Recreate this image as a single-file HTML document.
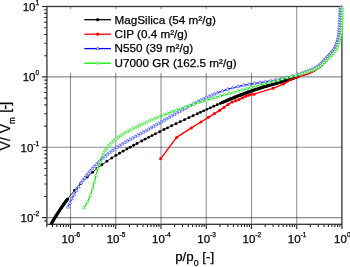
<!DOCTYPE html>
<html><head><meta charset="utf-8"><style>
html,body{margin:0;padding:0;background:#fff;width:350px;height:267px;overflow:hidden}
svg{display:block;font-family:"Liberation Sans",sans-serif;fill:#000}
text{stroke:#000;stroke-width:0.25px}
.t{position:absolute;left:0;top:0;will-change:transform}
</style></head><body>
<svg width="350" height="267" viewBox="0 0 350 267">
<path d="M70.50 6.5V224.3M115.75 6.5V224.3M161.00 6.5V224.3M206.25 6.5V224.3M251.50 6.5V224.3M296.75 6.5V224.3" stroke="#000" stroke-opacity="0.43" stroke-width="1.1" fill="none"/>
<path d="M46.9 76.90H341.9M46.9 147.27H341.9M46.9 217.64H341.9" stroke="#000" stroke-opacity="0.45" stroke-width="1.1" fill="none"/>
<path d="M46.84 224.3v2.6M52.49 224.3v2.6M56.88 224.3v2.6M60.46 224.3v2.6M63.49 224.3v2.6M66.11 224.3v2.6M68.43 224.3v2.6M70.50 224.3v4.8M84.12 224.3v2.6M92.09 224.3v2.6M97.74 224.3v2.6M102.13 224.3v2.6M105.71 224.3v2.6M108.74 224.3v2.6M111.36 224.3v2.6M113.68 224.3v2.6M115.75 224.3v4.8M129.37 224.3v2.6M137.34 224.3v2.6M142.99 224.3v2.6M147.38 224.3v2.6M150.96 224.3v2.6M153.99 224.3v2.6M156.61 224.3v2.6M158.93 224.3v2.6M161.00 224.3v4.8M174.62 224.3v2.6M182.59 224.3v2.6M188.24 224.3v2.6M192.63 224.3v2.6M196.21 224.3v2.6M199.24 224.3v2.6M201.86 224.3v2.6M204.18 224.3v2.6M206.25 224.3v4.8M219.87 224.3v2.6M227.84 224.3v2.6M233.49 224.3v2.6M237.88 224.3v2.6M241.46 224.3v2.6M244.49 224.3v2.6M247.11 224.3v2.6M249.43 224.3v2.6M251.50 224.3v4.8M265.12 224.3v2.6M273.09 224.3v2.6M278.74 224.3v2.6M283.13 224.3v2.6M286.71 224.3v2.6M289.74 224.3v2.6M292.36 224.3v2.6M294.68 224.3v2.6M296.75 224.3v4.8M310.37 224.3v2.6M318.34 224.3v2.6M323.99 224.3v2.6M328.38 224.3v2.6M331.96 224.3v2.6M334.99 224.3v2.6M337.61 224.3v2.6M339.93 224.3v2.6M342.00 224.3v4.8M46.9 220.86h-2.6M46.9 217.64h-4.8M46.9 196.46h-2.6M46.9 184.06h-2.6M46.9 175.27h-2.6M46.9 168.45h-2.6M46.9 162.88h-2.6M46.9 158.17h-2.6M46.9 154.09h-2.6M46.9 150.49h-2.6M46.9 147.27h-4.8M46.9 126.09h-2.6M46.9 113.69h-2.6M46.9 104.90h-2.6M46.9 98.08h-2.6M46.9 92.51h-2.6M46.9 87.80h-2.6M46.9 83.72h-2.6M46.9 80.12h-2.6M46.9 76.90h-4.8M46.9 55.72h-2.6M46.9 43.32h-2.6M46.9 34.53h-2.6M46.9 27.71h-2.6M46.9 22.14h-2.6M46.9 17.43h-2.6M46.9 13.35h-2.6M46.9 9.75h-2.6M46.9 6.53h-4.8" stroke="#222" stroke-width="1.1" fill="none"/>
<rect x="46.9" y="6.5" width="295.00" height="217.80" stroke="#333" stroke-width="1.3" fill="none"/>
<rect x="55" y="9" width="205" height="64" fill="#fff"/>
<path d="M84.3 19.7H110.9" stroke="#000" stroke-width="1.3"/>
<circle cx="97.7" cy="19.7" r="1.6" fill="#000"/>
<path d="M84.3 34.2H110.9" stroke="#f00" stroke-width="1.3"/>
<circle cx="97.7" cy="34.2" r="1.6" fill="#f00"/>
<path d="M84.3 48.6H110.9" stroke="#00f" stroke-width="1.3"/>
<path d="M97.7 46.70L99.35 49.55L96.05 49.55Z" fill="#fff" stroke="#00f" stroke-width="0.6" stroke-opacity="0.8"/>
<path d="M84.3 63.2H110.9" stroke="#0e0" stroke-width="1.3"/>
<path d="M97.7 61.30L99.35 64.15L96.05 64.15Z" fill="#fff" stroke="#0e0" stroke-width="0.6" stroke-opacity="0.8"/>
<polyline points="51.60,223.18 52.00,222.49 52.80,221.13 53.60,219.79 54.40,218.47 55.20,217.17 56.00,215.88 56.80,214.61 57.60,213.35 58.40,212.11 59.20,210.89 60.00,209.68 60.80,208.49 61.60,207.32 62.40,206.16 63.20,205.02 64.00,203.89 64.80,202.78 65.60,201.68 66.40,200.59 67.20,199.52 68.00,198.47 68.80,197.43 69.60,196.40 70.40,195.39 71.20,194.39 72.00,193.41 72.80,192.44 73.60,191.48 74.40,190.54 75.20,189.60 76.00,188.69 76.80,187.78 77.60,186.89 78.40,186.00 79.20,185.13 80.00,184.28 80.80,183.43 81.60,182.60 82.40,181.77 83.20,180.96 84.00,180.16 84.80,179.37 85.60,178.59 86.40,177.83 87.20,177.07 88.00,176.32 88.80,175.58 89.60,174.86 90.40,174.14 91.20,173.43 92.00,172.73 92.80,172.04 93.60,171.36 94.40,170.69 95.20,170.03 96.00,169.38 96.80,168.73 97.60,168.09 98.40,167.47 99.20,166.84 100.00,166.23 100.80,165.63 101.60,165.03 102.40,164.44 103.20,163.85 104.00,163.28 104.80,162.71 105.60,162.14 106.40,161.59 107.20,161.04 108.00,160.49 108.80,159.95 109.60,159.42 110.40,158.89 111.20,158.37 112.00,157.85 112.80,157.34 113.60,156.84 114.40,156.33 115.20,155.84 116.00,155.35 116.80,154.86 117.60,154.37 118.40,153.89 119.20,153.42 120.00,152.94 120.80,152.47 121.60,152.01 122.40,151.54 123.20,151.08 124.00,150.63 124.80,150.17 125.60,149.72 126.40,149.27 127.20,148.82 128.00,148.38 128.80,147.93 129.60,147.49 130.40,147.05 131.20,146.61 132.00,146.17 132.80,145.73 133.60,145.30 134.40,144.86 135.20,144.43 136.00,144.00 136.80,143.56 137.60,143.13 138.40,142.71 139.20,142.28 140.00,141.85 140.80,141.43 141.60,141.00 142.40,140.58 143.20,140.16 144.00,139.74 144.80,139.32 145.60,138.90 146.40,138.48 147.20,138.07 148.00,137.65 148.80,137.24 149.60,136.82 150.40,136.41 151.20,136.00 152.00,135.59 152.80,135.18 153.60,134.77 154.40,134.37 155.20,133.96 156.00,133.55 156.80,133.15 157.60,132.75 158.40,132.35 159.20,131.94 160.00,131.54 160.80,131.15 161.60,130.75 162.40,130.35 163.20,129.95 164.00,129.56 164.80,129.16 165.60,128.77 166.40,128.38 167.20,127.98 168.00,127.59 168.80,127.20 169.60,126.81 170.40,126.42 171.20,126.03 172.00,125.65 172.80,125.26 173.60,124.87 174.40,124.49 175.20,124.11 176.00,123.72 176.80,123.34 177.60,122.96 178.40,122.58 179.20,122.19 180.00,121.82 180.80,121.44 181.60,121.06 182.40,120.68 183.20,120.30 184.00,119.93 184.80,119.55 185.60,119.17 186.40,118.80 187.20,118.43 188.00,118.05 188.80,117.68 189.60,117.31 190.40,116.94 191.20,116.56 192.00,116.19 192.80,115.82 193.60,115.45 194.40,115.09 195.20,114.72 196.00,114.35 196.80,113.98 197.60,113.61 198.40,113.25 199.20,112.88 200.00,112.52 200.80,112.15 201.60,111.79 202.40,111.42 203.20,111.06 204.00,110.70 204.80,110.33 205.60,109.97 206.40,109.61 207.20,109.25 208.00,108.88 208.80,108.52 209.60,108.16 210.40,107.80 211.20,107.44 212.00,107.08 212.80,106.72 213.60,106.37 214.40,106.01 215.20,105.65 216.00,105.29 216.80,104.94 217.60,104.58 218.40,104.23 219.20,103.87 220.00,103.52 220.80,103.17 221.60,102.82 222.40,102.47 223.20,102.13 224.00,101.78 224.80,101.44 225.60,101.09 226.40,100.75 227.20,100.41 228.00,100.07 228.80,99.74 229.60,99.40 230.40,99.07 231.20,98.74 232.00,98.41 232.80,98.08 233.60,97.75 234.40,97.43 235.20,97.11 236.00,96.79 236.80,96.47 237.60,96.15 238.40,95.84 239.20,95.52 240.00,95.21 240.80,94.90 241.60,94.60 242.40,94.29 243.20,93.99 244.00,93.69 244.80,93.39 245.60,93.09 246.40,92.80 247.20,92.51 248.00,92.22 248.80,91.93 249.60,91.64 250.40,91.36 251.20,91.08 252.00,90.80 252.80,90.52 253.60,90.24 254.40,89.97 255.20,89.70 256.00,89.43 256.80,89.17 257.60,88.90 258.40,88.64 259.20,88.38 260.00,88.13 260.80,87.87 261.60,87.62 262.40,87.37 263.20,87.13 264.00,86.88 264.80,86.64 265.60,86.40 266.40,86.16 267.20,85.92 268.00,85.69 268.80,85.45 269.60,85.22 270.40,84.99 271.20,84.76 272.00,84.53 272.80,84.30 273.60,84.07 274.40,83.84 275.20,83.61 276.00,83.38 276.80,83.15 277.60,82.92 278.40,82.69 279.20,82.46 280.00,82.22 280.80,81.99 281.60,81.76 282.40,81.52 283.20,81.28 284.00,81.05 284.80,80.81 285.60,80.56 286.40,80.32 287.20,80.07 288.00,79.82 288.80,79.57 289.60,79.32 290.40,79.06 291.20,78.80 292.00,78.54 292.80,78.27 293.60,78.00 294.40,77.73 295.20,77.45 296.00,77.17 300.09,75.09 305.09,73.58 310.11,71.78 315.14,69.66 320.20,66.23 325.72,60.51 330.52,55.40 335.05,50.17 337.48,45.11 339.29,39.57 340.40,33.54 341.00,27.02 341.30,20.01 341.60,12.01 341.80,6.51" fill="none" stroke="#000" stroke-width="1.0" stroke-linejoin="round"/>
<g fill="#000"><circle cx="51.60" cy="223.18" r="1.6"/><circle cx="52.10" cy="222.31" r="1.6"/><circle cx="52.61" cy="221.45" r="1.6"/><circle cx="53.12" cy="220.59" r="1.6"/><circle cx="53.64" cy="219.73" r="1.6"/><circle cx="54.15" cy="218.88" r="1.6"/><circle cx="54.67" cy="218.02" r="1.6"/><circle cx="55.20" cy="217.17" r="1.6"/><circle cx="55.72" cy="216.32" r="1.6"/><circle cx="56.25" cy="215.47" r="1.6"/><circle cx="56.79" cy="214.63" r="1.6"/><circle cx="57.32" cy="213.78" r="1.6"/><circle cx="57.86" cy="212.94" r="1.6"/><circle cx="58.41" cy="212.10" r="1.6"/><circle cx="58.95" cy="211.27" r="1.6"/><circle cx="59.50" cy="210.43" r="1.6"/><circle cx="60.06" cy="209.60" r="1.6"/><circle cx="60.62" cy="208.77" r="1.6"/><circle cx="61.18" cy="207.94" r="1.6"/><circle cx="61.74" cy="207.11" r="1.6"/><circle cx="62.31" cy="206.29" r="1.6"/><circle cx="62.88" cy="205.47" r="1.6"/><circle cx="63.46" cy="204.65" r="1.6"/><circle cx="64.04" cy="203.84" r="1.6"/><circle cx="64.62" cy="203.03" r="1.6"/><circle cx="65.21" cy="202.22" r="1.6"/><circle cx="65.80" cy="201.41" r="1.6"/><circle cx="66.39" cy="200.61" r="1.6"/><circle cx="66.99" cy="199.81" r="1.6"/><circle cx="67.59" cy="199.01" r="1.6"/><circle cx="74.50" cy="190.42" r="1.45"/><circle cx="80.70" cy="183.54" r="1.45"/><circle cx="87.30" cy="176.97" r="1.45"/><circle cx="92.60" cy="172.22" r="1.45"/><circle cx="97.10" cy="168.49" r="1.45"/><circle cx="101.90" cy="164.81" r="1.45"/><circle cx="106.90" cy="161.24" r="1.45"/><circle cx="111.80" cy="157.98" r="1.45"/><circle cx="115.90" cy="155.41" r="1.45"/><circle cx="119.50" cy="153.24" r="1.45"/><circle cx="123.10" cy="151.14" r="1.45"/><circle cx="126.90" cy="148.99" r="1.45"/><circle cx="130.10" cy="147.21" r="1.45"/><circle cx="133.60" cy="145.30" r="1.45"/><circle cx="137.00" cy="143.46" r="1.45"/><circle cx="141.70" cy="140.95" r="1.45"/><circle cx="145.10" cy="139.16" r="1.45"/><circle cx="148.60" cy="137.34" r="1.45"/><circle cx="152.00" cy="135.59" r="1.45"/><circle cx="155.40" cy="133.86" r="1.45"/><circle cx="159.70" cy="131.69" r="1.45"/><circle cx="164.00" cy="129.56" r="1.45"/><circle cx="167.40" cy="127.88" r="1.45"/><circle cx="171.70" cy="125.79" r="1.45"/><circle cx="176.00" cy="123.72" r="1.45"/><circle cx="180.30" cy="121.67" r="1.45"/><circle cx="184.60" cy="119.64" r="1.45"/><circle cx="188.90" cy="117.63" r="1.45"/><circle cx="193.10" cy="115.69" r="1.45"/><circle cx="197.40" cy="113.71" r="1.45"/><circle cx="200.50" cy="112.29" r="1.45"/><circle cx="203.70" cy="110.83" r="1.45"/><circle cx="207.00" cy="109.34" r="1.45"/><circle cx="210.30" cy="107.85" r="1.45"/><circle cx="213.80" cy="106.28" r="1.45"/><circle cx="217.20" cy="104.76" r="1.45"/><circle cx="220.30" cy="103.39" r="1.45"/><circle cx="222.19" cy="102.56" r="1.7"/><circle cx="223.29" cy="102.09" r="1.7"/><circle cx="224.40" cy="101.61" r="1.7"/><circle cx="225.50" cy="101.14" r="1.7"/><circle cx="226.60" cy="100.66" r="1.7"/><circle cx="227.71" cy="100.20" r="1.7"/><circle cx="228.81" cy="99.73" r="1.7"/><circle cx="229.92" cy="99.27" r="1.7"/><circle cx="231.03" cy="98.81" r="1.7"/><circle cx="232.14" cy="98.35" r="1.7"/><circle cx="233.25" cy="97.90" r="1.7"/><circle cx="234.36" cy="97.45" r="1.7"/><circle cx="235.47" cy="97.00" r="1.7"/><circle cx="236.59" cy="96.55" r="1.7"/><circle cx="237.70" cy="96.11" r="1.7"/><circle cx="238.82" cy="95.67" r="1.7"/><circle cx="239.94" cy="95.24" r="1.7"/><circle cx="241.06" cy="94.81" r="1.7"/><circle cx="242.18" cy="94.38" r="1.7"/><circle cx="243.30" cy="93.95" r="1.7"/><circle cx="244.43" cy="93.53" r="1.7"/><circle cx="245.55" cy="93.11" r="1.7"/><circle cx="246.68" cy="92.70" r="1.7"/><circle cx="247.80" cy="92.29" r="1.7"/><circle cx="248.93" cy="91.88" r="1.7"/><circle cx="250.06" cy="91.48" r="1.7"/><circle cx="251.20" cy="91.08" r="1.7"/><circle cx="252.33" cy="90.68" r="1.7"/><circle cx="253.46" cy="90.29" r="1.7"/><circle cx="254.60" cy="89.90" r="1.7"/><circle cx="255.74" cy="89.52" r="1.7"/><circle cx="256.87" cy="89.14" r="1.7"/><circle cx="258.01" cy="88.77" r="1.7"/><circle cx="259.16" cy="88.40" r="1.7"/><circle cx="260.30" cy="88.03" r="1.7"/><circle cx="261.44" cy="87.67" r="1.7"/><circle cx="262.59" cy="87.32" r="1.7"/><circle cx="263.74" cy="86.96" r="1.7"/><circle cx="264.88" cy="86.61" r="1.7"/><circle cx="266.03" cy="86.27" r="1.7"/><circle cx="267.18" cy="85.93" r="1.7"/><circle cx="268.34" cy="85.59" r="1.7"/><circle cx="269.49" cy="85.25" r="1.7"/><circle cx="270.64" cy="84.92" r="1.7"/><circle cx="271.79" cy="84.59" r="1.7"/><circle cx="272.95" cy="84.25" r="1.7"/><circle cx="274.10" cy="83.92" r="1.7"/><circle cx="275.25" cy="83.59" r="1.7"/><circle cx="276.41" cy="83.26" r="1.7"/><circle cx="277.56" cy="82.93" r="1.7"/><circle cx="278.71" cy="82.60" r="1.7"/><circle cx="279.87" cy="82.26" r="1.7"/><circle cx="281.02" cy="81.93" r="1.7"/><circle cx="282.17" cy="81.59" r="1.7"/><circle cx="283.32" cy="81.25" r="1.7"/><circle cx="284.47" cy="80.91" r="1.7"/><circle cx="285.62" cy="80.56" r="1.7"/><circle cx="286.77" cy="80.21" r="1.7"/><circle cx="287.91" cy="79.85" r="1.7"/><circle cx="289.06" cy="79.49" r="1.7"/><circle cx="290.20" cy="79.13" r="1.7"/><circle cx="291.34" cy="78.76" r="1.7"/><circle cx="292.48" cy="78.38" r="1.7"/><circle cx="293.62" cy="78.00" r="1.7"/><circle cx="294.75" cy="77.61" r="1.7"/><circle cx="295.89" cy="77.21" r="1.7"/><circle cx="296.96" cy="76.68" r="1.7"/><circle cx="298.03" cy="76.14" r="1.7"/><circle cx="299.10" cy="75.59" r="1.7"/><circle cx="300.17" cy="75.06" r="1.4"/><circle cx="302.09" cy="74.49" r="1.4"/><circle cx="304.00" cy="73.91" r="1.4"/><circle cx="305.91" cy="73.29" r="1.4"/><circle cx="307.79" cy="72.62" r="1.4"/><circle cx="309.67" cy="71.94" r="1.4"/><circle cx="311.52" cy="71.19" r="1.4"/><circle cx="313.37" cy="70.41" r="1.4"/><circle cx="315.20" cy="69.62" r="1.4"/><circle cx="316.86" cy="68.50" r="1.4"/><circle cx="318.51" cy="67.37" r="1.4"/><circle cx="320.16" cy="66.25" r="1.4"/><circle cx="321.56" cy="64.82" r="1.4"/><circle cx="322.95" cy="63.38" r="1.4"/><circle cx="324.34" cy="61.94" r="1.4"/><circle cx="325.72" cy="60.50" r="1.4"/><circle cx="327.10" cy="59.04" r="1.4"/><circle cx="328.47" cy="57.59" r="1.4"/><circle cx="329.84" cy="56.13" r="1.4"/><circle cx="331.18" cy="54.64" r="1.4"/><circle cx="332.48" cy="53.13" r="1.4"/><circle cx="333.79" cy="51.62" r="1.4"/><circle cx="335.08" cy="50.09" r="1.4"/><circle cx="335.95" cy="48.29" r="1.4"/><circle cx="336.82" cy="46.49" r="1.4"/><circle cx="337.62" cy="44.66" r="1.4"/><circle cx="338.25" cy="42.76" r="1.4"/><circle cx="338.87" cy="40.86" r="1.4"/><circle cx="339.41" cy="38.94" r="1.4"/><circle cx="339.77" cy="36.97" r="1.4"/><circle cx="340.13" cy="35.01" r="1.4"/><circle cx="340.44" cy="33.03" r="1.4"/><circle cx="340.63" cy="31.04" r="1.4"/><circle cx="340.81" cy="29.05" r="1.4"/><circle cx="341.00" cy="27.06" r="1.4"/><circle cx="341.08" cy="25.06" r="1.4"/><circle cx="341.17" cy="23.06" r="1.4"/><circle cx="341.25" cy="21.06" r="1.4"/><circle cx="341.34" cy="19.07" r="1.4"/><circle cx="341.41" cy="17.07" r="1.4"/><circle cx="341.49" cy="15.07" r="1.4"/><circle cx="341.56" cy="13.07" r="1.4"/><circle cx="341.63" cy="11.07" r="1.4"/><circle cx="341.71" cy="9.07" r="1.4"/><circle cx="341.78" cy="7.07" r="1.4"/></g>
<polyline points="160.60,158.80 176.60,137.40 191.30,127.90 200.90,122.00 208.40,117.30 214.50,113.60 219.70,110.30 223.90,107.50 227.50,104.90 231.40,102.30 235.60,100.90 238.90,99.50 241.70,98.10 244.90,96.70 251.10,94.40 254.00,94.20 272.90,88.30 283.40,84.10 290.50,79.80 300.34,75.95 305.38,74.44 310.44,72.62 315.35,70.04 320.17,66.19 325.31,60.12 329.93,54.86 334.39,49.72 336.74,44.81 338.52,39.38 339.60,33.43 340.20,26.97 340.50,19.98 340.80,11.98 341.00,6.48" fill="none" stroke="#ff0000" stroke-width="1.4" stroke-linejoin="round"/>
<g fill="#ff0000"><circle cx="160.60" cy="158.80" r="1.5"/><circle cx="176.60" cy="137.40" r="1.5"/><circle cx="191.30" cy="127.90" r="1.5"/><circle cx="254.00" cy="94.20" r="1.5"/><circle cx="272.90" cy="88.30" r="1.5"/><circle cx="283.40" cy="84.10" r="1.5"/><circle cx="290.50" cy="79.80" r="1.5"/><circle cx="200.90" cy="122.00" r="1.5"/><circle cx="208.40" cy="117.30" r="1.5"/><circle cx="214.50" cy="113.60" r="1.5"/><circle cx="219.70" cy="110.30" r="1.5"/><circle cx="223.90" cy="107.50" r="1.5"/><circle cx="228.10" cy="104.50" r="1.5"/><circle cx="232.30" cy="102.00" r="1.5"/><circle cx="235.70" cy="100.86" r="1.5"/><circle cx="239.10" cy="99.40" r="1.5"/><circle cx="242.60" cy="97.71" r="1.5"/><circle cx="245.80" cy="96.37" r="1.5"/><circle cx="248.60" cy="95.33" r="1.5"/><circle cx="251.20" cy="94.39" r="1.5"/><circle cx="300.34" cy="75.95" r="1.3"/><circle cx="302.74" cy="75.23" r="1.3"/><circle cx="305.13" cy="74.51" r="1.3"/><circle cx="307.49" cy="73.68" r="1.3"/><circle cx="309.84" cy="72.83" r="1.3"/><circle cx="312.09" cy="71.75" r="1.3"/><circle cx="314.30" cy="70.59" r="1.3"/><circle cx="316.38" cy="69.22" r="1.3"/><circle cx="318.34" cy="67.66" r="1.3"/><circle cx="320.27" cy="66.07" r="1.3"/><circle cx="321.88" cy="64.17" r="1.3"/><circle cx="323.50" cy="62.26" r="1.3"/><circle cx="325.11" cy="60.35" r="1.3"/><circle cx="326.76" cy="58.47" r="1.3"/><circle cx="328.41" cy="56.59" r="1.3"/><circle cx="330.06" cy="54.71" r="1.3"/><circle cx="331.70" cy="52.82" r="1.3"/><circle cx="333.33" cy="50.93" r="1.3"/><circle cx="334.77" cy="48.91" r="1.3"/><circle cx="335.85" cy="46.66" r="1.3"/><circle cx="336.88" cy="44.38" r="1.3"/><circle cx="337.65" cy="42.01" r="1.3"/><circle cx="338.43" cy="39.63" r="1.3"/><circle cx="338.92" cy="37.18" r="1.3"/><circle cx="339.37" cy="34.72" r="1.3"/><circle cx="339.71" cy="32.25" r="1.3"/><circle cx="339.94" cy="29.76" r="1.3"/><circle cx="340.17" cy="27.27" r="1.3"/><circle cx="340.30" cy="24.77" r="1.3"/><circle cx="340.40" cy="22.27" r="1.3"/><circle cx="340.51" cy="19.78" r="1.3"/><circle cx="340.60" cy="17.28" r="1.3"/><circle cx="340.70" cy="14.78" r="1.3"/><circle cx="340.79" cy="12.28" r="1.3"/><circle cx="340.88" cy="9.78" r="1.3"/><circle cx="340.97" cy="7.29" r="1.3"/></g>
<polyline points="213.00,94.64 214.00,94.22 215.00,93.82 216.00,93.41 217.00,93.02 218.00,92.63 219.00,92.25 220.00,91.88 221.00,91.51 222.00,91.15 223.00,90.80 224.00,90.46 225.00,90.12 226.00,89.80 227.00,89.48 228.00,89.17 229.00,88.87 230.00,88.57 231.00,88.29 232.00,88.01 233.00,87.74 234.00,87.48 235.00,87.23 236.00,86.99 237.00,86.75 238.00,86.52 239.00,86.29 240.00,86.07 241.00,85.86 242.00,85.65 243.00,85.45 244.00,85.25 245.00,85.06 246.00,84.87 247.00,84.69 248.00,84.51 249.00,84.33 250.00,84.16 251.00,83.99 252.00,83.82 253.00,83.66 254.00,83.49 255.00,83.33 256.00,83.18 257.00,83.02 258.00,82.86 259.00,82.71 260.00,82.55 261.00,82.40 262.00,82.24 263.00,82.08 264.00,81.93 265.00,81.77 266.00,81.61 267.00,81.45 268.00,81.29 269.00,81.13 270.00,80.96 271.00,80.79 272.00,80.62 273.00,80.45 274.00,80.27 275.00,80.09 276.00,79.90 277.00,79.71 278.00,79.52 279.00,79.32 280.00,79.11 281.00,78.90 282.00,78.68 283.00,78.46 284.00,78.23 285.00,78.00 286.00,77.75 287.00,77.51 288.00,77.25 289.00,76.98 290.00,76.71 291.00,76.43 292.00,76.14 293.00,75.84 294.00,75.53 295.00,75.22 299.66,73.65 304.62,72.16 309.56,70.38 314.42,68.35 319.21,65.09 324.63,59.47 329.41,54.40 333.81,49.33 336.09,44.55 337.84,39.21 338.91,33.34 339.50,26.92 339.80,19.95 340.10,11.96 340.30,6.46" fill="none" stroke="#0000ff" stroke-width="1.1" stroke-linejoin="round"/>
<polyline points="67.90,207.14 69.00,204.76 70.00,202.65 71.00,200.61 72.00,198.62 73.00,196.70 74.00,194.82 75.00,193.00 76.00,191.24 77.00,189.52 78.00,187.86 79.00,186.24 80.00,184.67" fill="none" stroke="#0000ff" stroke-width="1.0" stroke-linejoin="round"/>
<polyline points="67.90,207.14 69.00,204.76 70.00,202.65 71.00,200.61 72.00,198.62 73.00,196.70 74.00,194.82 75.00,193.00 76.00,191.24 77.00,189.52 78.00,187.86 79.00,186.24 80.00,184.67 81.00,183.14 82.00,181.66 83.00,180.21 84.00,178.81 85.00,177.45 86.00,176.13 87.00,174.84 88.00,173.59 89.00,172.37 90.00,171.18 91.00,170.02 92.00,168.90 93.00,167.79 94.00,166.72 95.00,165.67 96.00,164.64 97.00,163.63 98.00,162.65 99.00,161.69 100.00,160.75 101.00,159.82 102.00,158.92 103.00,158.04 104.00,157.18 105.00,156.33 106.00,155.50 107.00,154.69 108.00,153.90 109.00,153.12 110.00,152.36 111.00,151.61 112.00,150.88 113.00,150.16 114.00,149.45 115.00,148.76 116.00,148.07 117.00,147.40 118.00,146.75 119.00,146.10 120.00,145.46 121.00,144.83 122.00,144.21 123.00,143.60 124.00,143.00 125.00,142.41 126.00,141.82 127.00,141.24 128.00,140.66 129.00,140.09 130.00,139.53 131.00,138.96 132.00,138.41 133.00,137.85 134.00,137.30 135.00,136.75 136.00,136.20 137.00,135.66 138.00,135.11 139.00,134.56 140.00,134.02 141.00,133.47 142.00,132.92 143.00,132.37 144.00,131.81 145.00,131.26 146.00,130.70 147.00,130.14 148.00,129.57 149.00,129.01 150.00,128.44 151.00,127.87 152.00,127.30 153.00,126.73 154.00,126.16 155.00,125.58 156.00,125.00 157.00,124.43 158.00,123.85 159.00,123.27 160.00,122.69 161.00,122.11 162.00,121.53 163.00,120.95 164.00,120.37 165.00,119.80 166.00,119.22 167.00,118.64 168.00,118.06 169.00,117.48 170.00,116.90 171.00,116.33 172.00,115.75 173.00,115.18 174.00,114.60 175.00,114.03 176.00,113.46 177.00,112.89 178.00,112.33 179.00,111.76 180.00,111.20 181.00,110.64 182.00,110.08 183.00,109.53 184.00,108.97 185.00,108.42 186.00,107.87 187.00,107.33 188.00,106.79 189.00,106.25 190.00,105.71 191.00,105.18 192.00,104.66 193.00,104.13 194.00,103.61 195.00,103.09 196.00,102.58 197.00,102.08 198.00,101.57 199.00,101.07 200.00,100.58 201.00,100.09 202.00,99.60 203.00,99.13 204.00,98.65 205.00,98.18 206.00,97.72 207.00,97.26 208.00,96.81 209.00,96.36 210.00,95.92 211.00,95.49 212.00,95.06 213.00,94.64 214.00,94.22 215.00,93.82" fill="none" stroke="#2030ff" stroke-width="0.6" stroke-linejoin="round"/>
<path d="M67.90 205.24L69.55 208.09L66.25 208.09ZM69.85 201.07L71.50 203.92L68.19 203.92ZM71.89 196.95L73.54 199.80L70.23 199.80ZM74.03 192.88L75.68 195.73L72.37 195.73ZM76.28 188.87L77.93 191.72L74.62 191.72ZM78.64 184.92L80.29 187.77L76.99 187.77ZM81.13 181.05L82.78 183.90L79.47 183.90ZM82.82 178.57L84.47 181.42L81.17 181.42ZM84.57 176.14L86.22 178.99L82.92 178.99ZM86.38 173.74L88.03 176.59L84.72 176.59ZM88.24 171.39L89.90 174.24L86.59 174.24ZM90.16 169.09L91.82 171.94L88.51 171.94ZM92.14 166.84L93.80 169.69L90.49 169.69ZM94.18 164.63L95.83 167.48L92.53 167.48ZM96.26 162.47L97.92 165.32L94.61 165.32ZM98.40 160.37L100.05 163.22L96.75 163.22ZM100.58 158.31L102.23 161.16L98.93 161.16ZM102.81 156.31L104.47 159.16L101.16 159.16ZM105.09 154.35L106.75 157.20L103.44 157.20ZM107.42 152.46L109.07 155.31L105.77 155.31ZM109.79 150.62L111.44 153.47L108.13 153.47ZM112.20 148.83L113.85 151.68L110.54 151.68ZM114.65 147.10L116.30 149.95L112.99 149.95ZM117.13 145.42L118.78 148.27L115.48 148.27ZM119.65 143.79L121.30 146.64L117.99 146.64ZM122.19 142.20L123.85 145.05L120.54 145.05ZM124.76 140.65L126.41 143.50L123.11 143.50ZM127.35 139.13L129.00 141.98L125.70 141.98ZM129.96 137.65L131.61 140.50L128.30 140.50ZM132.58 136.19L134.23 139.04L130.92 139.04ZM135.20 134.74L136.86 137.59L133.55 137.59ZM137.84 133.30L139.49 136.15L136.18 136.15ZM140.47 131.86L142.12 134.71L138.82 134.71ZM143.10 130.41L144.75 133.26L141.44 133.26ZM145.72 128.96L147.37 131.81L144.07 131.81ZM148.33 127.48L149.99 130.33L146.68 130.33ZM150.94 126.00L152.60 128.85L149.29 128.85ZM153.55 124.51L155.20 127.36L151.89 127.36ZM156.15 123.02L157.80 125.87L154.50 125.87ZM158.75 121.52L160.40 124.37L157.09 124.37ZM161.34 120.02L163.00 122.87L159.69 122.87ZM163.94 118.51L165.59 121.36L162.28 121.36ZM166.53 117.01L168.19 119.86L164.88 119.86ZM169.13 115.50L170.78 118.35L167.48 118.35ZM171.73 114.01L173.38 116.86L170.08 116.86ZM174.33 112.51L175.98 115.36L172.68 115.36ZM176.94 111.03L178.59 113.88L175.29 113.88ZM179.55 109.55L181.20 112.40L177.90 112.40ZM182.17 108.09L183.82 110.94L180.51 110.94ZM184.79 106.64L186.45 109.49L183.14 109.49ZM187.43 105.20L189.08 108.05L185.77 108.05ZM190.07 103.78L191.72 106.63L188.42 106.63ZM192.72 102.38L194.37 105.23L191.07 105.23ZM195.39 101.00L197.04 103.85L193.73 103.85ZM198.06 99.64L199.71 102.49L196.41 102.49ZM200.75 98.31L202.40 101.16L199.10 101.16ZM203.45 97.01L205.11 99.86L201.80 99.86ZM206.17 95.74L207.82 98.59L204.52 98.59ZM208.91 94.51L210.56 97.36L207.25 97.36ZM211.66 93.31L213.31 96.16L210.00 96.16ZM214.42 92.15L216.08 95.00L212.77 95.00ZM217.21 91.04L218.86 93.89L215.56 93.89ZM222.37 89.12L224.02 91.97L220.71 91.97ZM227.59 87.40L229.24 90.25L225.93 90.25ZM232.87 85.88L234.53 88.73L231.22 88.73ZM238.21 84.57L239.87 87.42L236.56 87.42ZM243.60 83.43L245.25 86.28L241.94 86.28ZM249.00 82.43L250.66 85.28L247.35 85.28ZM254.43 81.53L256.08 84.38L252.78 84.38ZM259.86 80.67L261.51 83.52L258.21 83.52ZM265.30 79.82L266.95 82.67L263.64 82.67ZM270.72 78.94L272.38 81.79L269.07 81.79ZM276.14 77.97L277.79 80.82L274.49 80.82ZM281.53 76.89L283.18 79.74L279.88 79.74ZM286.89 75.63L288.54 78.48L285.23 78.48ZM292.19 74.18L293.84 77.03L290.54 77.03ZM297.43 72.50L299.08 75.35L295.77 75.35ZM302.67 70.85L304.32 73.70L301.02 73.70ZM305.06 70.10L306.71 72.95L303.40 72.95ZM307.41 69.26L309.06 72.11L305.76 72.11ZM309.76 68.40L311.41 71.25L308.10 71.25ZM312.06 67.44L313.72 70.29L310.41 70.29ZM314.37 66.47L316.02 69.32L312.72 69.32ZM316.44 65.08L318.10 67.93L314.79 67.93ZM318.51 63.67L320.16 66.52L316.86 66.52ZM320.36 62.00L322.01 64.85L318.71 64.85ZM322.09 60.20L323.75 63.05L320.44 63.05ZM323.83 58.40L325.48 61.25L322.18 61.25ZM325.55 56.59L327.21 59.44L323.90 59.44ZM327.27 54.77L328.92 57.62L325.61 57.62ZM328.98 52.95L330.63 55.80L327.33 55.80ZM330.64 51.08L332.29 53.93L328.98 53.93ZM332.27 49.19L333.93 52.04L330.62 52.04ZM333.88 47.28L335.53 50.13L332.22 50.13ZM334.95 45.02L336.61 47.87L333.30 47.87ZM336.03 42.77L337.68 45.62L334.38 45.62ZM336.82 40.40L338.48 43.25L335.17 43.25ZM337.60 38.02L339.25 40.87L335.95 40.87ZM338.15 35.59L339.80 38.44L336.50 38.44ZM338.60 33.13L340.25 35.98L336.95 35.98ZM338.98 30.66L340.64 33.51L337.33 33.51ZM339.21 28.17L340.87 31.02L337.56 31.02ZM339.44 25.68L341.09 28.53L337.79 28.53ZM339.58 23.19L341.23 26.04L337.93 26.04ZM339.69 20.69L341.34 23.54L338.04 23.54ZM339.80 18.19L341.45 21.04L338.14 21.04ZM339.89 15.69L341.54 18.54L338.24 18.54ZM339.98 13.19L341.64 16.04L338.33 16.04ZM340.08 10.70L341.73 13.55L338.42 13.55ZM340.17 8.20L341.82 11.05L338.52 11.05ZM340.26 5.70L341.91 8.55L338.61 8.55Z" fill="#fff" stroke="#4050ff" stroke-width="0.62"/>
<polyline points="83.85,207.94 84.12,207.56 84.38,207.18 84.63,206.79 84.88,206.40 85.13,206.02 85.37,205.62 85.61,205.23 85.85,204.84 86.08,204.44 86.30,204.04 86.53,203.64 86.75,203.24 86.96,202.84 87.18,202.43 87.39,202.03 87.59,201.62 87.79,201.21 87.99,200.79 88.19,200.38 88.38,199.97 88.57,199.55 88.76,199.13 88.94,198.71 89.13,198.29 89.30,197.87 89.48,197.45 89.65,197.02 89.82,196.60 89.99,196.17 90.16,195.74 90.32,195.31 90.48,194.88 90.64,194.45 90.79,194.01 90.95,193.58 91.10,193.14 91.25,192.71 91.40,192.27 91.54,191.83 91.69,191.39 91.83,190.95 91.97,190.50 92.11,190.06 92.24,189.62 92.38,189.17 92.51,188.72 92.64,188.28 92.78,187.83 92.90,187.38 93.03,186.93 93.16,186.48 93.29,186.03 93.41,185.58 93.54,185.13 93.66,184.67 93.78,184.22 93.90,183.76 94.02,183.31 94.14,182.85 94.26,182.40 94.38,181.94 94.50,181.48 94.62,181.02 94.74,180.56 94.85,180.11 94.97,179.65 95.09,179.19 95.21,178.73 95.32,178.27 95.44,177.81 95.56,177.34 95.67,176.88 95.79,176.42 95.91,175.96 96.03,175.50 96.15,175.03 96.27,174.57 96.38,174.11 96.50,173.65 96.63,173.19 96.75,172.72 96.87,172.26 96.99,171.80 97.11,171.34 97.24,170.88 97.36,170.42 97.49,169.96 97.62,169.50 97.75,169.04 97.88,168.58 98.01,168.12 98.14,167.67 98.27,167.21 98.41,166.76 98.55,166.30 98.69,165.85 98.83,165.40 98.97,164.95 99.11,164.50 99.25,164.05 99.40,163.60 99.55,163.15 99.70,162.71 99.85,162.26 100.01,161.82 100.16,161.38 100.32,160.94 100.49,160.50 100.65,160.07 100.81,159.63 100.98,159.20 101.15,158.77 101.33,158.34 101.50,157.91 101.68,157.49 101.86,157.07 102.04,156.65 102.23,156.23 102.42,155.81 102.61,155.40 102.81,154.98" fill="none" stroke="#00dd00" stroke-width="1.1" stroke-linejoin="round"/>
<polyline points="155.36,118.33 155.79,118.15 156.22,117.97 156.65,117.79 157.09,117.61 157.52,117.43 157.95,117.26 158.39,117.08 158.82,116.90 159.25,116.72 159.69,116.55 160.12,116.37 160.55,116.20 160.99,116.02 161.42,115.85 161.85,115.67 162.29,115.50 162.72,115.33 163.16,115.15 163.59,114.98 164.03,114.81 164.46,114.64 164.90,114.47 165.33,114.30 165.77,114.13 166.20,113.96 166.64,113.79 167.07,113.62 167.51,113.46 167.94,113.29 168.38,113.12 168.81,112.95 169.25,112.79 169.69,112.62 170.12,112.46 170.56,112.29 171.00,112.13 171.43,111.97 171.87,111.80 172.31,111.64 172.74,111.48 173.18,111.31 173.62,111.15 174.06,110.99 174.49,110.83 174.93,110.67 175.37,110.51 175.81,110.35 176.24,110.19 176.68,110.03 177.12,109.87 177.56,109.72 178.00,109.56 178.43,109.40 178.87,109.24 179.31,109.09 179.75,108.93 180.19,108.78 180.63,108.62 181.07,108.47 181.51,108.31 181.95,108.16 182.38,108.00 182.82,107.85 183.26,107.70 183.70,107.55 184.14,107.39 184.58,107.24 185.02,107.09 185.46,106.94 185.90,106.79 186.34,106.64 186.78,106.49 187.22,106.34 187.67,106.19 188.11,106.04 188.55,105.89 188.99,105.74 189.43,105.60 189.87,105.45 190.31,105.30 190.75,105.15 191.19,105.01 191.64,104.86 192.08,104.72 192.52,104.57 192.96,104.42 193.40,104.28 193.84,104.13 194.29,103.99 194.73,103.85 195.17,103.70 195.61,103.56 196.05,103.42 196.50,103.27 196.94,103.13 197.38,102.99 197.83,102.85 198.27,102.71 198.71,102.57 199.15,102.42 199.60,102.28 200.04,102.14 200.48,102.00 200.93,101.86 201.37,101.72 201.81,101.59 202.26,101.45 202.70,101.31 203.14,101.17 203.59,101.03 204.03,100.89 204.48,100.76 204.92,100.62 205.36,100.48 205.81,100.35 206.25,100.21 206.70,100.07 207.14,99.94 207.59,99.80 208.03,99.67 208.48,99.53 208.92,99.40 209.37,99.26 209.81,99.13 210.26,98.99 210.70,98.86 211.15,98.73 211.59,98.59 212.04,98.46 212.48,98.33 212.93,98.19 213.37,98.06 213.82,97.93 214.26,97.80 214.71,97.66 215.16,97.53 215.60,97.40 216.05,97.27 216.49,97.14 216.94,97.01 217.39,96.88 217.83,96.75 218.28,96.62 218.72,96.49 219.17,96.36 219.62,96.23 220.06,96.10 220.51,95.97 220.96,95.84 221.40,95.71 221.85,95.58 222.30,95.46 222.74,95.33 223.19,95.20 223.64,95.07 224.09,94.94 224.53,94.82 224.98,94.69 225.43,94.56 225.88,94.43" fill="none" stroke="#00dd00" stroke-width="1.1" stroke-linejoin="round"/>
<polyline points="222.30,95.46 222.74,95.33 223.19,95.20 223.64,95.07 224.09,94.94 224.53,94.82 224.98,94.69 225.43,94.56 225.88,94.43 226.32,94.31 226.77,94.18 227.22,94.05 227.67,93.93 228.11,93.80 228.56,93.67 229.01,93.55 229.46,93.42 229.90,93.30 230.35,93.17 230.80,93.05 231.25,92.92 231.70,92.80 232.14,92.67 232.59,92.55 233.04,92.42 233.49,92.30 233.94,92.17 234.39,92.05 234.83,91.92 235.28,91.80 235.73,91.68 236.18,91.55 236.63,91.43 237.08,91.31 237.53,91.18 237.98,91.06 238.42,90.93 238.87,90.81 239.32,90.69 239.77,90.57 240.22,90.44 240.67,90.32 241.12,90.20 241.57,90.07 242.02,89.95 242.47,89.83 242.92,89.71 243.36,89.58 243.81,89.46 244.26,89.34 244.71,89.22 245.16,89.10 245.61,88.97 246.06,88.85 246.51,88.73 246.96,88.61 247.41,88.49 247.86,88.37 248.31,88.24 248.76,88.12 249.21,88.00 249.66,87.88 250.11,87.76 250.56,87.64 251.01,87.52 251.46,87.39 251.91,87.27 252.36,87.15 252.81,87.03 253.26,86.91 253.71,86.79 254.16,86.67 254.61,86.55 255.06,86.43 255.51,86.31 255.96,86.18 256.41,86.06 256.86,85.94 257.31,85.82 257.76,85.70 258.21,85.58 258.66,85.46 259.12,85.34 259.57,85.22 260.02,85.10 260.47,84.98 260.92,84.85 261.37,84.73 261.82,84.61 262.27,84.49 262.72,84.37 263.17,84.25 263.62,84.13 264.07,84.01 264.52,83.89 264.97,83.77 265.43,83.64 265.88,83.52 266.33,83.40 266.78,83.28 267.23,83.16 267.68,83.04 268.13,82.92 268.58,82.80 269.03,82.68 269.48,82.55 269.94,82.43 270.39,82.31 270.84,82.19 271.29,82.07 271.74,81.95 272.19,81.82 272.64,81.70 273.09,81.58 273.54,81.46 274.00,81.34 274.45,81.21 274.90,81.09 275.35,80.97 275.80,80.85 276.25,80.73 276.70,80.60 277.15,80.48 277.61,80.36 278.06,80.24 278.51,80.11 278.96,79.99 279.41,79.87 279.86,79.74 280.31,79.62 280.76,79.50 281.22,79.37 281.67,79.25 282.12,79.13 282.57,79.00 283.02,78.88 283.47,78.76 283.92,78.63 284.38,78.51 284.83,78.38 285.28,78.26 285.73,78.13 286.18,78.01 286.63,77.88 287.08,77.76 287.53,77.63 287.99,77.51 288.44,77.38 288.89,77.26 289.34,77.13 289.79,77.01 290.24,76.88 290.69,76.75 291.14,76.63 291.60,76.50 292.05,76.38 292.50,76.25 292.95,76.12 293.40,76.00 293.85,75.87 299.89,74.42 304.87,72.92 309.85,71.13 314.98,69.37 320.21,66.24 326.02,60.80 330.97,55.80 335.55,50.50 338.04,45.33 339.87,39.72 340.99,33.62 341.60,27.06 341.90,20.04 342.20,12.03 342.40,6.53" fill="none" stroke="#00dd00" stroke-width="1.1" stroke-linejoin="round"/>
<polyline points="100.01,161.82 100.16,161.38 100.32,160.94 100.49,160.50 100.65,160.07 100.81,159.63 100.98,159.20 101.15,158.77 101.33,158.34 101.50,157.91 101.68,157.49 101.86,157.07 102.04,156.65 102.23,156.23 102.42,155.81 102.61,155.40 102.81,154.98 103.01,154.57 103.21,154.17 103.41,153.76 103.62,153.36 103.83,152.96 104.05,152.56 104.26,152.17 104.48,151.78 104.71,151.39 104.94,151.00 105.17,150.62 105.40,150.24 105.64,149.86 105.89,149.48 106.13,149.11 106.38,148.74 106.64,148.38 106.90,148.02 107.16,147.66 107.43,147.30 107.70,146.95 107.97,146.60 108.25,146.26 108.53,145.91 108.82,145.57 109.11,145.24 109.40,144.90 109.70,144.57 110.00,144.25 110.30,143.92 110.61,143.60 110.92,143.28 111.23,142.97 111.55,142.65 111.87,142.34 112.19,142.03 112.52,141.73 112.85,141.43 113.19,141.13 113.52,140.83 113.86,140.53 114.20,140.24 114.55,139.95 114.90,139.67 115.25,139.38 115.60,139.10 115.96,138.82 116.31,138.54 116.68,138.26 117.04,137.99 117.40,137.72 117.77,137.45 118.14,137.18 118.52,136.92 118.89,136.66 119.27,136.40 119.65,136.14 120.03,135.88 120.42,135.63 120.80,135.37 121.19,135.12 121.58,134.87 121.97,134.63 122.37,134.38 122.76,134.14 123.16,133.89 123.56,133.65 123.96,133.42 124.36,133.18 124.76,132.94 125.17,132.71 125.57,132.48 125.98,132.24 126.39,132.01 126.80,131.79 127.21,131.56 127.63,131.33 128.04,131.11 128.46,130.88 128.87,130.66 129.29,130.44 129.71,130.22 130.12,130.00 130.54,129.79 130.96,129.57 131.39,129.35 131.81,129.14 132.23,128.92 132.65,128.71 133.08,128.50 133.50,128.29 133.92,128.08 134.35,127.87 134.77,127.66 135.20,127.45 135.62,127.25 136.05,127.04 136.48,126.83 136.90,126.63 137.33,126.42 137.75,126.22 138.18,126.01 138.61,125.81 139.03,125.61 139.46,125.41 139.89,125.20 140.32,125.00 140.74,124.80 141.17,124.60 141.60,124.41 142.03,124.21 142.45,124.01 142.88,123.81 143.31,123.62 143.74,123.42 144.17,123.22 144.60,123.03 145.02,122.83 145.45,122.64 145.88,122.45 146.31,122.25 146.74,122.06 147.17,121.87 147.60,121.68 148.03,121.49 148.46,121.30 148.89,121.11 149.32,120.92 149.75,120.73 150.18,120.55 150.61,120.36 151.04,120.17 151.47,119.99 151.90,119.80 152.34,119.61 152.77,119.43 153.20,119.25 153.63,119.06 154.06,118.88 154.49,118.70 154.93,118.52 155.36,118.33 155.79,118.15 156.22,117.97 156.65,117.79 157.09,117.61 157.52,117.43 157.95,117.26 158.39,117.08 158.82,116.90 159.25,116.72 159.69,116.55 160.12,116.37 160.55,116.20 160.99,116.02 161.42,115.85 161.85,115.67 162.29,115.50 162.72,115.33 163.16,115.15 163.59,114.98 164.03,114.81 164.46,114.64 164.90,114.47 165.33,114.30 165.77,114.13 166.20,113.96 166.64,113.79 167.07,113.62 167.51,113.46 167.94,113.29 168.38,113.12 168.81,112.95 169.25,112.79 169.69,112.62 170.12,112.46 170.56,112.29 171.00,112.13 171.43,111.97 171.87,111.80 172.31,111.64 172.74,111.48 173.18,111.31 173.62,111.15 174.06,110.99 174.49,110.83 174.93,110.67 175.37,110.51 175.81,110.35 176.24,110.19 176.68,110.03 177.12,109.87 177.56,109.72 178.00,109.56 178.43,109.40 178.87,109.24 179.31,109.09 179.75,108.93 180.19,108.78 180.63,108.62 181.07,108.47 181.51,108.31 181.95,108.16 182.38,108.00 182.82,107.85 183.26,107.70 183.70,107.55 184.14,107.39 184.58,107.24 185.02,107.09 185.46,106.94 185.90,106.79 186.34,106.64 186.78,106.49 187.22,106.34 187.67,106.19 188.11,106.04 188.55,105.89 188.99,105.74 189.43,105.60 189.87,105.45 190.31,105.30 190.75,105.15 191.19,105.01 191.64,104.86 192.08,104.72 192.52,104.57 192.96,104.42 193.40,104.28 193.84,104.13 194.29,103.99 194.73,103.85 195.17,103.70 195.61,103.56 196.05,103.42 196.50,103.27 196.94,103.13 197.38,102.99 197.83,102.85 198.27,102.71 198.71,102.57 199.15,102.42 199.60,102.28 200.04,102.14 200.48,102.00 200.93,101.86 201.37,101.72 201.81,101.59 202.26,101.45 202.70,101.31 203.14,101.17 203.59,101.03 204.03,100.89 204.48,100.76 204.92,100.62 205.36,100.48 205.81,100.35 206.25,100.21 206.70,100.07 207.14,99.94 207.59,99.80 208.03,99.67 208.48,99.53 208.92,99.40 209.37,99.26 209.81,99.13 210.26,98.99 210.70,98.86 211.15,98.73 211.59,98.59 212.04,98.46 212.48,98.33 212.93,98.19 213.37,98.06 213.82,97.93 214.26,97.80 214.71,97.66 215.16,97.53 215.60,97.40 216.05,97.27 216.49,97.14 216.94,97.01 217.39,96.88 217.83,96.75 218.28,96.62 218.72,96.49 219.17,96.36 219.62,96.23 220.06,96.10 220.51,95.97 220.96,95.84 221.40,95.71 221.85,95.58 222.30,95.46 222.74,95.33 223.19,95.20 223.64,95.07 224.09,94.94 224.53,94.82 224.98,94.69" fill="none" stroke="#22dd22" stroke-width="0.6" stroke-linejoin="round"/>
<path d="M83.85 206.04L85.51 208.89L82.20 208.89ZM87.43 200.03L89.09 202.88L85.78 202.88ZM90.24 193.62L91.89 196.47L88.59 196.47ZM92.46 186.99L94.12 189.84L90.81 189.84ZM94.33 180.24L95.98 183.09L92.68 183.09ZM96.06 173.46L97.72 176.31L94.41 176.31ZM97.87 166.70L99.53 169.55L96.22 169.55ZM99.97 160.02L101.63 162.87L98.32 162.87ZM102.60 153.53L104.25 156.38L100.94 156.38ZM103.80 151.12L105.45 153.97L102.15 153.97ZM105.14 148.77L106.79 151.62L103.48 151.62ZM106.61 146.51L108.27 149.36L104.96 149.36ZM108.24 144.36L109.90 147.21L106.59 147.21ZM110.02 142.33L111.67 145.18L108.36 145.18ZM111.91 140.40L113.56 143.25L110.26 143.25ZM113.91 138.59L115.57 141.44L112.26 141.44ZM116.00 136.88L117.66 139.73L114.35 139.73ZM118.17 135.27L119.82 138.12L116.51 138.12ZM120.39 133.74L122.05 136.59L118.74 136.59ZM122.67 132.29L124.32 135.14L121.02 135.14ZM124.99 130.91L126.64 133.76L123.34 133.76ZM127.34 129.59L129.00 132.44L125.69 132.44ZM129.72 128.31L131.38 131.16L128.07 131.16ZM132.13 127.08L133.78 129.93L130.47 129.93ZM134.54 125.87L136.20 128.72L132.89 128.72ZM136.97 124.69L138.62 127.54L135.32 127.54ZM139.41 123.53L141.06 126.38L137.75 126.38ZM141.85 122.39L143.51 125.24L140.20 125.24ZM144.31 121.26L145.96 124.11L142.65 124.11ZM146.77 120.15L148.42 123.00L145.12 123.00ZM149.24 119.06L150.89 121.91L147.58 121.91ZM151.71 117.98L153.37 120.83L150.06 120.83ZM154.20 116.92L155.85 119.77L152.54 119.77ZM156.69 115.88L158.34 118.73L155.03 118.73ZM159.18 114.85L160.84 117.70L157.53 117.70ZM163.45 113.14L165.11 115.99L161.80 115.99ZM167.74 111.47L169.39 114.32L166.09 114.32ZM172.04 109.84L173.69 112.69L170.39 112.69ZM176.36 108.25L178.01 111.10L174.70 111.10ZM180.69 106.70L182.34 109.55L179.04 109.55ZM185.03 105.19L186.69 108.04L183.38 108.04ZM189.39 103.71L191.04 106.56L187.74 106.56ZM193.76 102.26L195.41 105.11L192.10 105.11ZM198.13 100.85L199.79 103.70L196.48 103.70ZM202.52 99.46L204.17 102.31L200.87 102.31ZM206.91 98.11L208.57 100.96L205.26 100.96ZM211.32 96.77L212.97 99.62L209.66 99.62ZM215.73 95.46L217.38 98.31L214.07 98.31ZM220.14 94.18L221.80 97.03L218.49 97.03ZM224.56 92.91L226.22 95.76L222.91 95.76ZM228.99 91.65L230.64 94.50L227.34 94.50ZM233.42 90.42L235.07 93.27L231.77 93.27ZM237.85 89.19L239.51 92.04L236.20 92.04ZM242.29 87.98L243.94 90.83L240.64 90.83ZM246.73 86.77L248.38 89.62L245.08 89.62ZM251.17 85.57L252.82 88.42L249.52 88.42ZM255.61 84.38L257.27 87.23L253.96 87.23ZM260.06 83.19L261.71 86.04L258.40 86.04ZM264.50 81.99L266.15 84.84L262.85 84.84ZM268.94 80.80L270.60 83.65L267.29 83.65ZM273.38 79.60L275.04 82.45L271.73 82.45ZM277.82 78.40L279.48 81.25L276.17 81.25ZM282.26 77.19L283.91 80.04L280.61 80.04ZM286.70 75.97L288.35 78.82L285.04 78.82ZM291.13 74.73L292.78 77.58L289.47 77.58ZM295.57 73.55L297.23 76.40L293.92 76.40ZM300.04 72.47L301.70 75.32L298.39 75.32ZM302.44 71.75L304.09 74.60L300.78 74.60ZM304.83 71.03L306.49 73.88L303.18 73.88ZM307.19 70.19L308.84 73.04L305.53 73.04ZM309.54 69.34L311.19 72.19L307.88 72.19ZM311.90 68.52L313.55 71.37L310.25 71.37ZM314.26 67.71L315.92 70.56L312.61 70.56ZM316.48 66.57L318.13 69.42L314.82 69.42ZM318.62 65.29L320.28 68.14L316.97 68.14ZM320.69 63.90L322.34 66.75L319.03 66.75ZM322.51 62.19L324.16 65.04L320.86 65.04ZM324.33 60.48L325.99 63.33L322.68 63.33ZM326.15 58.76L327.81 61.61L324.50 61.61ZM327.91 56.99L329.57 59.84L326.26 59.84ZM329.67 55.21L331.32 58.06L328.02 58.06ZM331.40 53.41L333.05 56.26L329.75 56.26ZM333.03 51.51L334.69 54.36L331.38 54.36ZM334.67 49.62L336.32 52.47L333.01 52.47ZM336.05 47.56L337.70 50.41L334.39 50.41ZM337.13 45.31L338.78 48.16L335.48 48.16ZM338.17 43.04L339.82 45.89L336.51 45.89ZM338.94 40.66L340.60 43.51L337.29 43.51ZM339.72 38.29L341.37 41.14L338.07 41.14ZM340.24 35.84L341.89 38.69L338.58 38.69ZM340.69 33.38L342.34 36.23L339.03 36.23ZM341.07 30.91L342.72 33.76L339.41 33.76ZM341.30 28.43L342.95 31.28L339.64 31.28ZM341.53 25.94L343.18 28.79L339.87 28.79ZM341.67 23.44L343.32 26.29L340.02 26.29ZM341.78 20.94L343.43 23.79L340.13 23.79ZM341.89 18.45L343.54 21.30L340.23 21.30ZM341.98 15.95L343.63 18.80L340.33 18.80ZM342.08 13.45L343.73 16.30L340.42 16.30ZM342.17 10.95L343.82 13.80L340.52 13.80ZM342.26 8.45L343.91 11.30L340.61 11.30ZM342.35 5.95L344.00 8.80L340.70 8.80Z" fill="#fff" stroke="#3ce23c" stroke-width="0.62"/>
</svg>
<svg class="t" width="350" height="267" viewBox="0 0 350 267">
<text x="39.1" y="10.8" text-anchor="end" font-size="11.5">10<tspan dy="-6.1" font-size="6.5">1</tspan></text><text x="39.1" y="81.2" text-anchor="end" font-size="11.5">10<tspan dy="-6.1" font-size="6.5">0</tspan></text><text x="39.1" y="151.6" text-anchor="end" font-size="11.5">10<tspan dy="-6.1" font-size="6.5">-1</tspan></text><text x="39.1" y="221.9" text-anchor="end" font-size="11.5">10<tspan dy="-6.1" font-size="6.5">-2</tspan></text>
<text x="70.8" y="242.6" text-anchor="middle" font-size="11.5">10<tspan dy="-5.3" font-size="6.5">-6</tspan></text><text x="116.0" y="242.6" text-anchor="middle" font-size="11.5">10<tspan dy="-5.3" font-size="6.5">-5</tspan></text><text x="161.3" y="242.6" text-anchor="middle" font-size="11.5">10<tspan dy="-5.3" font-size="6.5">-4</tspan></text><text x="206.6" y="242.6" text-anchor="middle" font-size="11.5">10<tspan dy="-5.3" font-size="6.5">-3</tspan></text><text x="251.8" y="242.6" text-anchor="middle" font-size="11.5">10<tspan dy="-5.3" font-size="6.5">-2</tspan></text><text x="297.1" y="242.6" text-anchor="middle" font-size="11.5">10<tspan dy="-5.3" font-size="6.5">-1</tspan></text><text x="342.3" y="242.6" text-anchor="middle" font-size="11.5">10<tspan dy="-5.3" font-size="6.5">0</tspan></text>
<text x="175.2" y="260.8" font-size="13.3">p/p<tspan dy="5.3" font-size="8.8">0</tspan><tspan dy="-5.3"> [-]</tspan></text>
<text transform="translate(9.7 150.4) rotate(-90)" font-size="14">V/ V<tspan dy="5.5" font-size="8.2">m</tspan></text>
<text transform="translate(9.7 112.7) rotate(-90)" font-size="14" letter-spacing="-0.75">[-]</text>
<text x="114.5" y="23.5" font-size="11.7">MagSilica (54 m²/g)</text>
<text x="114.5" y="38.0" font-size="11.7">CIP (0.4 m²/g)</text>
<text x="114.5" y="52.4" font-size="11.7">N550 (39 m²/g)</text>
<text x="114.5" y="67.0" font-size="11.7">U7000 GR (162.5 m²/g)</text>
</svg></body></html>
